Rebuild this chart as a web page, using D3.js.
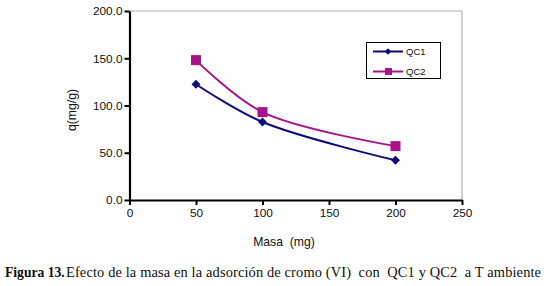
<!DOCTYPE html>
<html><head><meta charset="utf-8">
<script src="https://d3js.org/d3.v7.min.js"></script>
<style>body{margin:0;background:#fff}svg{display:block}</style>
</head><body>
<script>
const masa = [50, 100, 200];
const qc1 = [122.5, 82.5, 42.0];
const qc2 = [148.0, 93.0, 57.0];
const xTicks = [0, 50, 100, 150, 200, 250];
const yTicks = [0, 50, 100, 150, 200];
const seriesNames = ["QC1", "QC2"];
const colors = ["#0c0c7a", "#a8138a"];

const W = 546, H = 286;
const svg = d3.select("body").append("svg").attr("width", W).attr("height", H);
const x = d3.scaleLinear().domain([0, 250]).range([129.5, 462]);
const y = d3.scaleLinear().domain([0, 200]).range([200, 11]);

svg.append("path").attr("d", `M${x(0)},${y(200)}H${x(250)}V${y(0)}`)
  .attr("fill", "none").attr("stroke", "#b0b0b0").attr("stroke-width", 1.2);

const yAxis = svg.append("g").attr("transform", `translate(${x(0)},0)`)
  .call(d3.axisLeft(y).tickValues(yTicks).tickFormat(d3.format(".1f")).tickSize(5).tickSizeOuter(0));
const xAxis = svg.append("g").attr("transform", `translate(0,${y(0)})`)
  .call(d3.axisBottom(x).tickValues(xTicks).tickFormat(d3.format("d")).tickSize(5).tickSizeOuter(0));
[yAxis, xAxis].forEach(g => {
  g.select(".domain").attr("stroke", "#000").attr("stroke-width", 2.2);
  g.selectAll(".tick line").attr("stroke", "#000").attr("stroke-width", 2);
  g.selectAll("text").attr("font-family", "Liberation Sans, Arial, sans-serif").attr("font-size", 11.8).attr("fill", "#111");
});
yAxis.selectAll("text").attr("x", -7);
xAxis.selectAll("text").attr("y", 9);

const line = d3.line().x(d => x(d[0])).y(d => y(d[1])).curve(d3.curveCatmullRom.alpha(0.5));
const data = [qc1, qc2].map(s => masa.map((m, i) => [m, s[i]]));
data.forEach((pts, k) => {
  svg.append("path").attr("d", line(pts)).attr("fill", "none")
    .attr("stroke", colors[k]).attr("stroke-width", 2);
});
const diamond = d3.symbol().type(d3.symbolSquare).size(40);
svg.selectAll(".m1").data(data[0]).enter().append("path")
  .attr("d", diamond).attr("fill", colors[0])
  .attr("transform", d => `translate(${x(d[0])},${y(d[1])}) rotate(45)`);
svg.selectAll(".m2").data(data[1]).enter().append("rect")
  .attr("x", d => x(d[0]) - 5).attr("y", d => y(d[1]) - 5)
  .attr("width", 10).attr("height", 10).attr("fill", colors[1]);

const lg = svg.append("g");
lg.append("rect").attr("x", 366.5).attr("y", 42.5).attr("width", 74).attr("height", 36)
  .attr("fill", "#fff").attr("stroke", "#000").attr("stroke-width", 1);
seriesNames.forEach((n, k) => {
  const ly = 51.5 + k * 20;
  lg.append("line").attr("x1", 373).attr("x2", 403).attr("y1", ly).attr("y2", ly)
    .attr("stroke", colors[k]).attr("stroke-width", 2);
  if (k === 0) {
    lg.append("path").attr("d", d3.symbol().type(d3.symbolSquare).size(22)())
      .attr("fill", colors[0]).attr("transform", `translate(388,${ly}) rotate(45)`);
  } else {
    lg.append("rect").attr("x", 385).attr("y", ly - 3.5).attr("width", 7).attr("height", 7).attr("fill", colors[1]);
  }
  lg.append("text").attr("x", 406).attr("y", ly + 3.5).text(n)
    .attr("font-family", "Liberation Sans, Arial, sans-serif").attr("font-size", 9.5).attr("fill", "#111");
});

svg.append("text").attr("x", 284).attr("y", 246).attr("text-anchor", "middle")
  .attr("font-family", "Liberation Sans, Arial, sans-serif").attr("font-size", 12.2).attr("fill", "#111")
  .attr("xml:space", "preserve").text("Masa  (mg)");
svg.append("text").attr("transform", "translate(76,110) rotate(-90)").attr("text-anchor", "middle")
  .attr("font-family", "Liberation Sans, Arial, sans-serif").attr("font-size", 12.2).attr("fill", "#111")
  .text("q(mg/g)");

const cap = svg.append("text").attr("y", 277)
  .attr("font-family", "Liberation Serif, Times New Roman, serif").attr("fill", "#111")
  .attr("xml:space", "preserve");
cap.append("tspan").attr("x", 5).attr("font-weight", "bold").attr("font-size", 13.6).text("Figura 13.");
cap.append("tspan").attr("x", 66).attr("font-size", 14.4)
  .attr("textLength", 475).attr("lengthAdjust", "spacing")
  .text("Efecto de la masa en la adsorción de cromo (VI)  con  QC1 y QC2  a T ambiente");
</script>
</body></html>
